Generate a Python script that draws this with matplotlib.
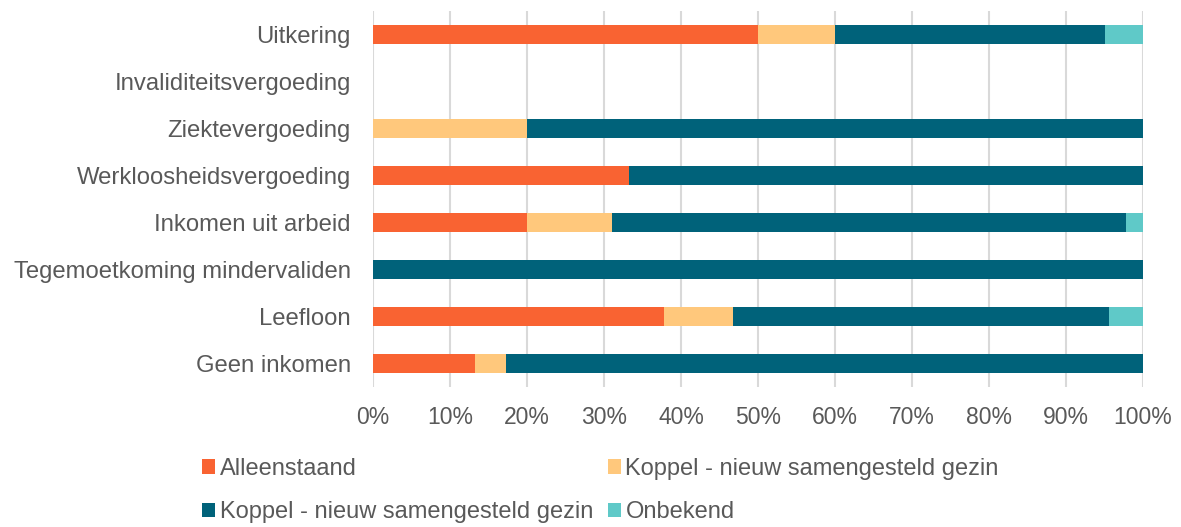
import matplotlib.pyplot as plt
import numpy as np

plt.rcParams['font.family'] = ['Liberation Sans', 'DejaVu Sans']

categories = ['Geen inkomen', 'Leefloon', 'Tegemoetkoming mindervaliden', 'Inkomen uit arbeid',
              'Werkloosheidsvergoeding', 'Ziektevergoeding', 'Invaliditeitsvergoeding', 'Uitkering']
alleenstaand = [13.3, 37.8, 0, 20.0, 33.3, 0, 0, 50.0]
koppel_geel = [4.0, 8.9, 0, 11.1, 0, 20.0, 0, 10.0]
koppel_donker = [82.7, 48.9, 100, 66.7, 66.7, 80.0, 0, 35.0]
onbekend = [0, 4.4, 0, 2.2, 0, 0, 0, 5.0]

series = [('Alleenstaand', alleenstaand, '#F96332'),
          ('Koppel - nieuw samengesteld gezin', koppel_geel, '#FFC87C'),
          ('Koppel - nieuw samengesteld gezin', koppel_donker, '#00627A'),
          ('Onbekend', onbekend, '#5FC9C8')]

txt = '#595959'
fig = plt.figure(figsize=(11.81, 5.27), dpi=100)
ax = fig.add_axes([373/1181, 1-387/527, 770/1181, 376/527])

y = np.arange(len(categories))
left = np.zeros(len(categories))
bars = []
for name, vals, col in series:
    b = ax.barh(y, vals, left=left, height=0.39, color=col, label=name, zorder=3)
    bars.append(b)
    left += np.array(vals)

ax.set_xlim(0, 100)
ax.set_ylim(-0.5, len(categories) - 0.5)
ax.set_xticks(np.arange(0, 101, 10))
ax.set_xticklabels([f'{v}%' for v in range(0, 101, 10)])
ax.set_yticks(y)
ax.set_yticklabels(categories)
ax.tick_params(axis='both', length=0, colors=txt)
ax.tick_params(axis='x', pad=14, labelsize=16.5)
ax.tick_params(axis='y', pad=16, labelsize=17.2)
ax.grid(axis='x', color='#D9D9D9', linewidth=1.5, zorder=0)
for s in ax.spines.values():
    s.set_visible(False)

handles = [bars[0], bars[2], bars[1], bars[3]]
labels = [series[0][0], series[2][0], series[1][0], series[3][0]]
leg = fig.legend(handles, labels, ncol=2, loc='upper left', bbox_to_anchor=(190/1181, 1-446/527),
                 frameon=False, fontsize=17, handlelength=0.55, handleheight=0.55, borderpad=0,
                 handletextpad=0.2, columnspacing=0.63, labelspacing=0.9)
for t in leg.get_texts():
    t.set_color(txt)

fig.savefig('out.png', dpi=100)
